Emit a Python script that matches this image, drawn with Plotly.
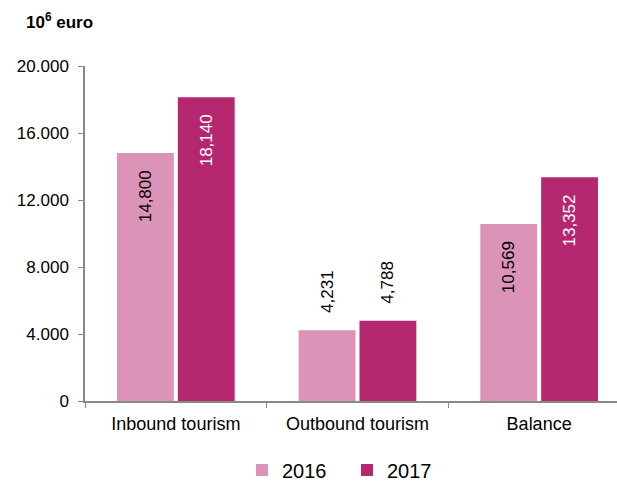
import plotly.graph_objects as go

categories = ["Inbound tourism", "Outbound tourism", "Balance"]
values_2016 = [14800, 4231, 10569]
values_2017 = [18140, 4788, 13352]
labels_2016 = ["14,800", "4,231", "10,569"]
labels_2017 = ["18,140", "4,788", "13,352"]
positions = ["inside", "outside", "inside"]
y_tickvals = [0, 4000, 8000, 12000, 16000, 20000]
y_ticktext = ["0", "4.000", "8.000", "12.000", "16.000", "20.000"]

NB = "\u00a0"


def pad(labels, pos):
    out = []
    for t, p in zip(labels, pos):
        if p == "inside":
            out.append(t + NB * 3)
        else:
            out.append(NB * 3 + t)
    return out


FONT = "Liberation Sans, Arial, sans-serif"

fig = go.Figure()
fig.add_trace(go.Bar(
    x=categories, y=values_2016, name="2016",
    marker=dict(color="#DB93B8", line=dict(width=0)),
    text=pad(labels_2016, positions), textposition=positions, textangle=-90,
    insidetextanchor="end", constraintext="none", cliponaxis=False,
    insidetextfont=dict(color="black", size=17, family=FONT),
    outsidetextfont=dict(color="black", size=17, family=FONT),
))
fig.add_trace(go.Bar(
    x=categories, y=values_2017, name="2017",
    marker=dict(color="#B5276F", line=dict(width=0)),
    text=pad(labels_2017, positions), textposition=positions, textangle=-90,
    insidetextanchor="end", constraintext="none", cliponaxis=False,
    insidetextfont=dict(color="white", size=17, family=FONT),
    outsidetextfont=dict(color="black", size=17, family=FONT),
))

fig.update_layout(
    width=617, height=482,
    margin=dict(l=85, r=0, t=66, b=81, autoexpand=False),
    paper_bgcolor="white", plot_bgcolor="white",
    font=dict(family=FONT, size=17, color="black"),
    barmode="group", bargap=0.33, bargroupgap=0.066,
    showlegend=True,
    legend=dict(orientation="h", x=347 / 617, xref="container", xanchor="center",
                y=0.025, yref="container", yanchor="middle", font=dict(size=20),
                entrywidth=60, entrywidthmode="pixels", traceorder="normal"),
    annotations=[dict(text="<b>10<sup>6</sup> euro</b>", xref="paper", yref="paper",
                      x=-0.115, y=1.0, xanchor="left", yanchor="bottom",
                      yshift=32, showarrow=False, font=dict(size=17, color="black"))],
)
fig.update_xaxes(
    range=[-0.5, 2.4286], showline=True, linecolor="#898989", linewidth=1.5,
    ticks="outside", tickson="boundaries", ticklen=5, tickcolor="#898989",
    showgrid=False, tickfont=dict(size=18), ticklabelstandoff=6,
)
fig.update_yaxes(
    range=[0, 20000], tickvals=y_tickvals, ticktext=y_ticktext,
    showline=True, linecolor="#898989", linewidth=1.5,
    ticks="outside", ticklen=5, tickcolor="#898989", showgrid=False,
    zeroline=False, tickfont=dict(size=17), ticklabelstandoff=6,
)

fig.write_html("out.html")
